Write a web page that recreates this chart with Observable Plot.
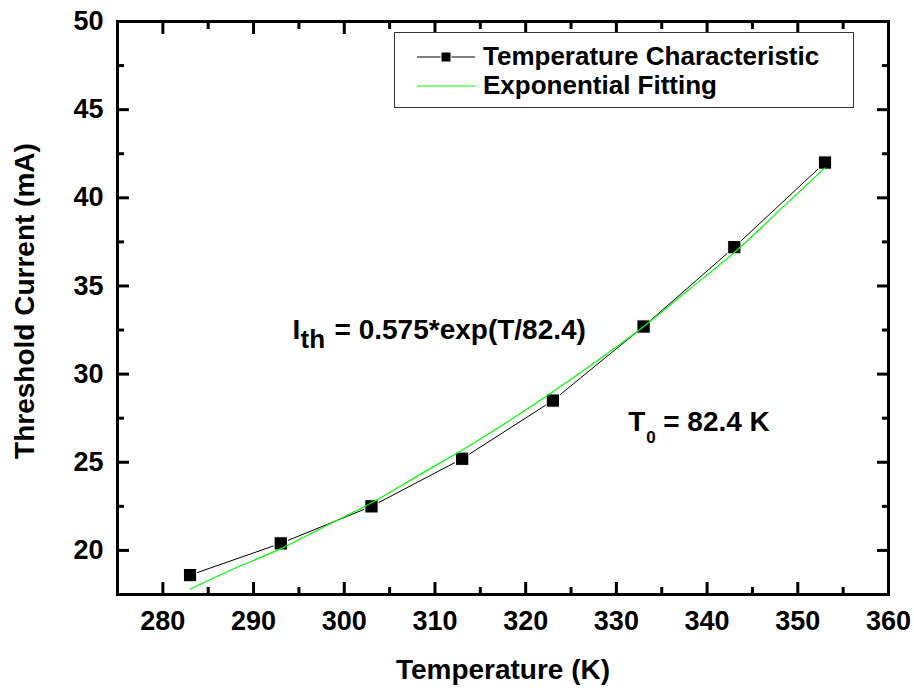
<!DOCTYPE html>
<html>
<head>
<meta charset="utf-8">
<script src="https://cdn.jsdelivr.net/npm/d3@7"></script>
<script src="https://cdn.jsdelivr.net/npm/@observablehq/plot@0.6"></script>
<style>
  html, body { margin: 0; padding: 0; background: #fff; }
  #chart svg { display: block; }
</style>
</head>
<body>
<div id="chart"></div>
<script>
// Measured data (Temperature characteristic)
const temps = [283, 293, 303, 313, 323, 333, 343, 353];
const currents = [18.6, 20.4, 22.5, 25.2, 28.5, 32.7, 37.2, 42.0];

// Exponential fitting curve
const fitTemps = [283, 288, 293, 298, 303, 308, 313, 318, 323, 328, 333, 338, 343, 348, 353];
const fitCurrents = [17.8, 19.0, 20.1, 21.4, 22.7, 24.2, 25.7, 27.3, 29.0, 30.8, 32.7, 34.8, 36.9, 39.3, 41.7];

// Axis ticks
const xMajor = [280, 290, 300, 310, 320, 330, 340, 350, 360];
const xMinor = [275, 285, 295, 305, 315, 325, 335, 345, 355];
const yMajor = [20, 25, 30, 35, 40, 45, 50];
const yMinor = [17.5, 22.5, 27.5, 32.5, 37.5, 42.5, 47.5];

// Texts
const xTitle = "Temperature (K)";
const yTitle = "Threshold Current (mA)";
const seriesNames = ["Temperature Characteristic", "Exponential Fitting"];
const eqAnchor = [{T: 294.3, I: 32.0}];
const t0Anchor = [{T: 331.3, I: 26.8}];

const points = temps.map((t, i) => ({T: t, I: currents[i]}));
const fit = fitTemps.map((t, i) => ({T: t, I: fitCurrents[i]}));

const FONT = "'Liberation Sans', Arial, Helvetica, sans-serif";
const bold = {fontWeight: "bold", fontFamily: FONT};
const tickStyle = {stroke: "black", fill: "none", strokeWidth: 3, label: null};

const svg = Plot.plot({
  width: 914,
  height: 688,
  marginLeft: 117,
  marginRight: 26,
  marginTop: 21,
  marginBottom: 94,
  style: {fontFamily: FONT, background: "white", color: "black"},
  x: {domain: [275, 360]},
  y: {domain: [17.5, 50]},
  marks: [
    // tick labels
    Plot.axisX(xMajor, {anchor: "bottom", tickSize: 0, tickPadding: 16, fontSize: 27, ...bold, label: null}),
    Plot.axisY(yMajor, {anchor: "left", tickSize: 0, tickPadding: 14, fontSize: 27, ...bold, label: null}),
    // inward ticks on all four sides
    Plot.axisX(xMajor, {anchor: "bottom", tickSize: -12, ...tickStyle}),
    Plot.axisX(xMinor, {anchor: "bottom", tickSize: -7, ...tickStyle}),
    Plot.axisX(xMajor, {anchor: "top", tickSize: -12, ...tickStyle}),
    Plot.axisX(xMinor, {anchor: "top", tickSize: -7, ...tickStyle}),
    Plot.axisY(yMajor, {anchor: "left", tickSize: -12, ...tickStyle}),
    Plot.axisY(yMinor, {anchor: "left", tickSize: -7, ...tickStyle}),
    Plot.axisY(yMajor, {anchor: "right", tickSize: -12, ...tickStyle}),
    Plot.axisY(yMinor, {anchor: "right", tickSize: -7, ...tickStyle}),
    Plot.frame({stroke: "black", strokeWidth: 3}),
    // axis titles
    Plot.text([xTitle], {frameAnchor: "bottom", dy: 84, lineAnchor: "bottom", textAnchor: "middle", fontSize: 28, ...bold, fill: "black"}),
    Plot.text([yTitle], {frameAnchor: "left", dx: -84, dy: -7, rotate: -90, lineAnchor: "bottom", textAnchor: "middle", fontSize: 28, ...bold, fill: "black"}),
    // data
    Plot.line(points, {x: "T", y: "I", stroke: "black", strokeWidth: 1}),
    Plot.dot(points, {x: "T", y: "I", symbol: "square", r: 7.5, fill: "black", stroke: "white", strokeWidth: 1}),
    Plot.line(fit, {x: "T", y: "I", stroke: "#00ff00", strokeWidth: 1.2, curve: "natural"}),
    // annotations
    Plot.text(eqAnchor, {x: "T", y: "I", text: () => "I", textAnchor: "start", lineAnchor: "bottom", fontSize: 28, ...bold, fill: "black"}),
    Plot.text(eqAnchor, {x: "T", y: "I", text: () => "th", dx: 8, dy: 9, textAnchor: "start", lineAnchor: "bottom", fontSize: 26, ...bold, fill: "black"}),
    Plot.text(eqAnchor, {x: "T", y: "I", text: () => "= 0.575*exp(T/82.4)", dx: 42, textAnchor: "start", lineAnchor: "bottom", fontSize: 28, ...bold, fill: "black"}),
    Plot.text(t0Anchor, {x: "T", y: "I", text: () => "T", textAnchor: "start", lineAnchor: "bottom", fontSize: 28, ...bold, fill: "black"}),
    Plot.text(t0Anchor, {x: "T", y: "I", text: () => "0", dx: 18, dy: 12, textAnchor: "start", lineAnchor: "bottom", fontSize: 17, ...bold, fill: "black"}),
    Plot.text(t0Anchor, {x: "T", y: "I", text: () => "= 82.4 K", dx: 35, textAnchor: "start", lineAnchor: "bottom", fontSize: 28, ...bold, fill: "black"})
  ]
});

// Legend box (inside the frame, top right)
const g = d3.select(svg).append("g").attr("font-family", FONT).attr("text-anchor", "start");
g.append("rect").attr("x", 394.5).attr("y", 32.5).attr("width", 459).attr("height", 75)
  .attr("fill", "white").attr("stroke", "#333").attr("stroke-width", 1);
const rows = [
  {y: 57, name: seriesNames[0], color: "black", marker: true},
  {y: 86, name: seriesNames[1], color: "#00ff00", marker: false}
];
rows.forEach(r => {
  g.append("line").attr("x1", 417).attr("x2", 475).attr("y1", r.y).attr("y2", r.y)
    .attr("stroke", r.color).attr("stroke-width", r.marker ? 1 : 1.2);
  if (r.marker) {
    g.append("rect").attr("x", 441).attr("y", r.y - 5).attr("width", 10).attr("height", 10)
      .attr("fill", "black").attr("stroke", "white").attr("stroke-width", 1);
  }
  g.append("text").attr("x", 483).attr("y", r.y + 8).attr("font-size", 26).attr("font-weight", "bold")
    .attr("text-anchor", "start").attr("fill", "black").text(r.name);
});

document.getElementById("chart").appendChild(svg);
</script>
</body>
</html>
